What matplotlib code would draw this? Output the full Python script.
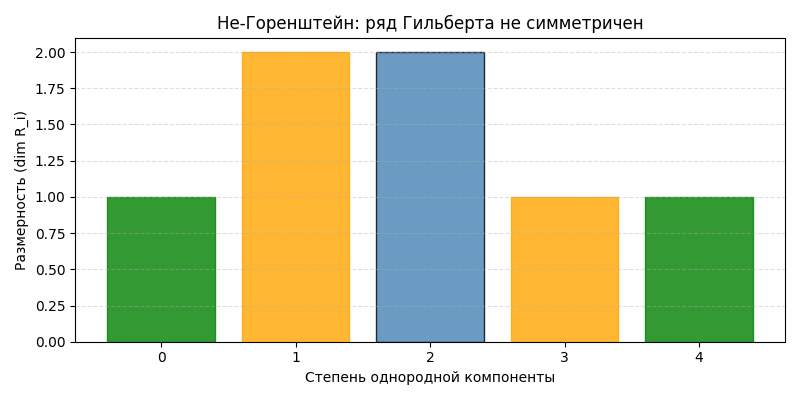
import matplotlib.pyplot as plt

# данные
degrees = [0, 1, 2, 3, 4]
dims = [1, 2, 2, 1, 1]
colors = ['green', 'orange', 'steelblue', 'orange', 'green']
edges = ['green', 'orange', 'black', 'orange', 'green']

fig, ax = plt.subplots(figsize=(8, 4), dpi=100)
ax.bar(degrees, dims, color=colors, edgecolor=edges, alpha=0.8, linewidth=1)
ax.set_xlabel("Степень однородной компоненты")
ax.set_ylabel("Размерность (dim R_i)")
ax.set_title("Не-Горенштейн: ряд Гильберта не симметричен")
ax.set_xticks(degrees)
ax.grid(axis='y', linestyle='--', alpha=0.4)
plt.tight_layout()
plt.savefig("out.png")
